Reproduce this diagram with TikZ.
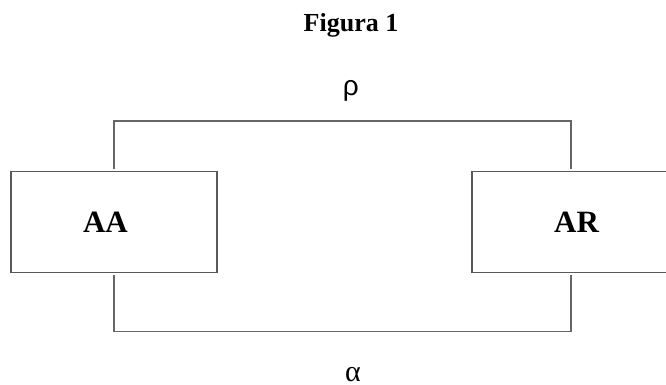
\documentclass[tikz,border=0pt]{standalone}
\usepackage{fontspec}
\setmainfont{Liberation Serif}
\newfontfamily\greekfont{Liberation Sans}
\begin{document}
\begin{tikzpicture}[x=1pt,y=-1pt,
  boxstyle/.style={draw=black!65, line width=1.1pt, fill=white, rectangle,
    minimum width=206pt, minimum height=101pt, inner sep=0pt, outer sep=2.5pt},
  conn/.style={draw=black!60, line width=1.1pt},
  boxtext/.style={font=\fontsize{31}{36}\selectfont\bfseries, inner sep=0pt},
  greek/.style={font=\greekfont\fontsize{28}{32}\selectfont, inner sep=0pt}]
\useasboundingbox (0,0) rectangle (666,385);
\node[font=\fontsize{26}{30}\selectfont\bfseries, anchor=base, inner sep=0pt] (title) at (351,32) {Figura 1};
\node[boxstyle] (AA) at (114,222.2) {};
\node[boxstyle, minimum width=198pt] (AR) at (571,222.2) {};
\node[boxtext, anchor=base] (tAA) at (105.5,232.7) {AA};
\node[boxtext, anchor=base] (tAR) at (576.5,232.7) {AR};
\coordinate (top) at (343,121);
\coordinate (bot) at (343,331.5);
\draw[conn] (AA.north) |- (top) -| (AR.north);
\draw[conn] (AA.south) |- (bot) -| (AR.south);
\node[greek] (rho) at (350.8,91) {ρ};
\node[font=\fontsize{30}{32}\selectfont, inner sep=0pt, anchor=base] (alpha) at (353,381) {α};
\end{tikzpicture}
\end{document}
